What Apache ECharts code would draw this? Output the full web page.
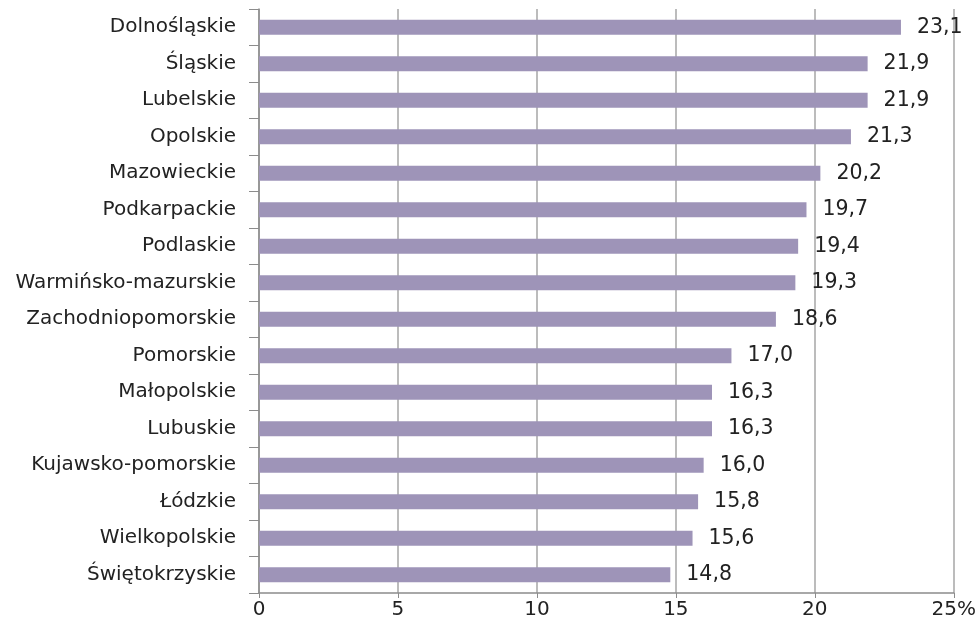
<!DOCTYPE html>
<html>
<head>
<meta charset="utf-8">
<script src="https://cdn.jsdelivr.net/npm/echarts@6/dist/echarts.min.js"></script>
<style>
  html, body { margin: 0; padding: 0; background: #fff; }
  #chart { width: 979px; height: 621px; }
</style>
</head>
<body>
<div id="chart"></div>
<script>
// regions, top to bottom
const regions = [
  'Dolnośląskie', 'Śląskie', 'Lubelskie', 'Opolskie', 'Mazowieckie',
  'Podkarpackie', 'Podlaskie', 'Warmińsko-mazurskie', 'Zachodniopomorskie',
  'Pomorskie', 'Małopolskie', 'Lubuskie', 'Kujawsko-pomorskie', 'Łódzkie',
  'Wielkopolskie', 'Świętokrzyskie'
];
const values = [
  23.1, 21.9, 21.9, 21.3, 20.2, 19.7, 19.4, 19.3, 18.6,
  17.0, 16.3, 16.3, 16.0, 15.8, 15.6, 14.8
];
const xTicks = [0, 5, 10, 15, 20, 25];

const chart = echarts.init(document.getElementById('chart'), null, { renderer: 'canvas' });

const font = '"DejaVu Sans", Verdana, sans-serif';

chart.setOption({
  animation: false,
  grid: { left: 259, right: 24, top: 9, bottom: 28 },
  xAxis: {
    type: 'value',
    min: xTicks[0],
    max: xTicks[xTicks.length - 1],
    interval: 5,
    axisLine: { show: true, lineStyle: { color: '#8c8c8c', width: 1.5 } },
    axisTick: { show: true, length: 5, lineStyle: { color: '#8c8c8c' } },
    axisLabel: {
      color: '#222', fontSize: 20, fontFamily: font, margin: 7,
      formatter: v => v === 25 ? '25%' : String(v)
    },
    splitLine: { show: true, lineStyle: { color: '#a6a6a6', width: 1.5 } }
  },
  yAxis: {
    type: 'category',
    data: regions,
    inverse: true,
    axisLine: { show: true, lineStyle: { color: '#8c8c8c', width: 1.5 } },
    axisTick: { show: true, length: 10, lineStyle: { color: '#8c8c8c' } },
    axisLabel: { color: '#222', fontSize: 20, fontFamily: font, margin: 23 }
  },
  series: [{
    type: 'bar',
    data: values,
    barWidth: 15,
    itemStyle: { color: '#9e94b8' },
    label: {
      show: true,
      position: 'right',
      distance: 16,
      color: '#222',
      fontSize: 20.5,
      fontFamily: font,
      formatter: p => p.value.toFixed(1).replace('.', ',')
    }
  }]
});
</script>
</body>
</html>
